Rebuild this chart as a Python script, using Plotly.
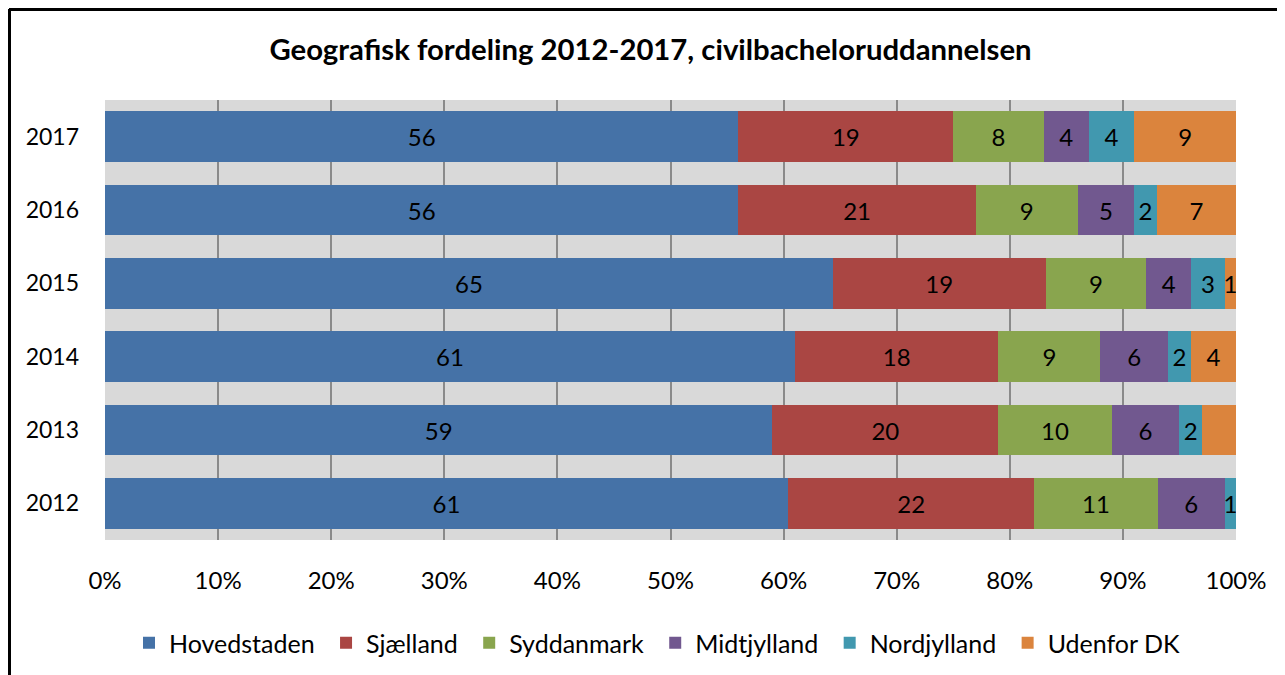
import plotly.graph_objects as go

years = ["2012", "2013", "2014", "2015", "2016", "2017"]
regions = ["Hovedstaden", "Sjælland", "Syddanmark", "Midtjylland", "Nordjylland", "Udenfor DK"]
hovedstaden = [61, 59, 61, 65, 56, 56]
sjaelland = [22, 20, 18, 19, 21, 19]
syddanmark = [11, 10, 9, 9, 9, 8]
midtjylland = [6, 6, 6, 4, 5, 4]
nordjylland = [1, 2, 2, 3, 2, 4]
udenfor = [0, 3, 4, 1, 7, 9]
udenfor_labels = ["", "", "4", "1", "7", "9"]
colors = ["#4572a7", "#aa4643", "#89a54e", "#71588f", "#4198af", "#db843d"]

series = [hovedstaden, sjaelland, syddanmark, midtjylland, nordjylland, udenfor]
FONT = "Lato"

fig = go.Figure()
for name, vals, col in zip(regions, series, colors):
    if name == "Udenfor DK":
        txt = udenfor_labels
    else:
        txt = [str(v) for v in vals]
    fig.add_trace(go.Bar(
        y=years, x=vals, name=name + "\u00a0", orientation="h",
        marker=dict(color=col, line=dict(width=0)),
        text=txt, textposition="inside", insidetextanchor="middle",
        textangle=0, textfont=dict(color="black", size=24, family=FONT),
    ))

# page offset (browser body margin)
OFF = 8
W, H = 1285, 675
# desired plot area in page pixels: x 105..1236, y 100..540
L = 105 - OFF
T = 100 - OFF
pw = 1236 - 105
ph = 540 - 100
R = W - L - pw
B = H - T - ph

def px_x(p):
    return (p - OFF - L) / pw

def px_y(p):
    return (T + ph - (p - OFF)) / ph

fig.update_layout(
    width=W, height=H,
    barmode="stack", barnorm="percent", bargap=0.31,
    margin=dict(l=L, r=R, t=T, b=B, autoexpand=False),
    paper_bgcolor="white", plot_bgcolor="#d9d9d9",
    font=dict(family=FONT, size=24, color="black"),
    uniformtext=dict(minsize=24, mode="show"),
    title=dict(text="<b>Geografisk fordeling 2012-2017, civilbacheloruddannelsen</b>",
               x=0.5, xanchor="center", y=1 - (50 - OFF) / H, yanchor="middle",
               font=dict(family=FONT, size=29.3, color="black")),
    legend=dict(orientation="h", x=px_x(660), xanchor="center", y=px_y(643), yanchor="middle",
                font=dict(family=FONT, size=25), traceorder="normal",
                itemwidth=30),
    xaxis=dict(range=[0, 100], dtick=10, ticksuffix="%", showgrid=True,
               gridcolor="#8a8a8a", gridwidth=2, zeroline=False,
               ticks="", ticklabelstandoff=24, fixedrange=True,
               tickfont=dict(size=24)),
    yaxis=dict(showgrid=False, ticks="", ticklabelstandoff=25,
               showline=False, tickfont=dict(size=23)),
    shapes=[
        dict(type="line", xref="paper", yref="paper", x0=px_x(9.5), x1=px_x(9.5),
             y0=px_y(9), y1=px_y(690), line=dict(color="black", width=3)),
        dict(type="line", xref="paper", yref="paper", x0=px_x(9), x1=px_x(1282),
             y0=px_y(9.5), y1=px_y(9.5), line=dict(color="black", width=3)),
    ],
    showlegend=True,
)

fig.write_html("out.html")
